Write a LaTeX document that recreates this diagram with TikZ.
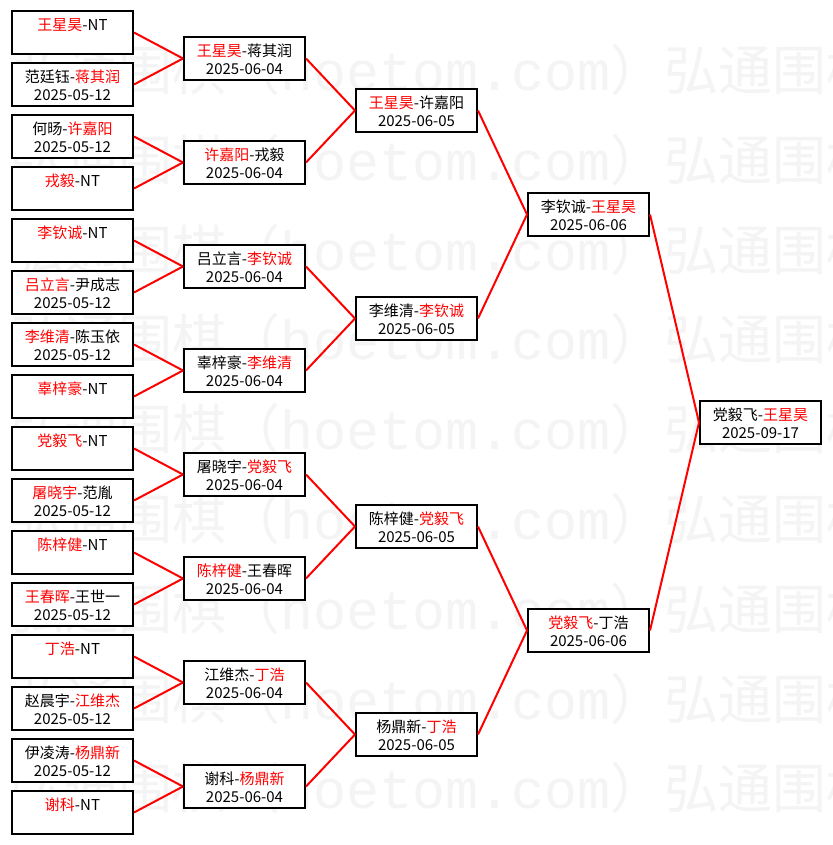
\documentclass[tikz,border=0pt]{standalone}
\usepackage{fontspec}
\setmainfont{Noto Sans CJK SC}
\newfontfamily\wmmono{Liberation Mono}
\usetikzlibrary{calc}
\definecolor{wm}{gray}{0.955}
\newcommand\Rn[1]{\textcolor{red}{#1}}
\tikzset{
  box/.style={draw=black, line width=2pt, fill=white, minimum width=121pt, minimum height=43pt, inner sep=0pt, outer sep=1pt},
  txt/.style={anchor=base, inner sep=0pt, font=\fontsize{15pt}{18pt}\selectfont},
  link/.style={draw=red, line width=2pt},
  wmtext/.style={anchor=base west, inner sep=0pt, text=wm, font=\fontsize{54pt}{60pt}\selectfont}
}
% box with two lines
\newcommand\bk[5]{%
  \node[box] (#1) at (#2,#3) {};
  \node[txt] (#1t) at ($(#1.north)+(0,20.7)$) {#4};
  \node[txt] (#1d) at ($(#1.north)+(0,38.7)$) {#5};}
% box with one line
\newcommand\bkn[4]{%
  \node[box] (#1) at (#2,#3) {};
  \node[txt] (#1t) at ($(#1.north)+(0,20.7)$) {#4};}
\newcommand\wmstr{弘通围棋（{\wmmono\fontsize{55pt}{60pt}\selectfont hoetom.com}）}
\begin{document}
\begin{tikzpicture}[x=1pt,y=-1pt]
\useasboundingbox (0,0) rectangle (832,845);
\fill[white] (0,0) rectangle (832,845);
% watermark
\begin{scope}
\clip (0,0) rectangle (832,845);
\foreach \r in {0,...,8}{
  \foreach \c [count=\n] in {-644,10,664}{
    \node[wmtext] (w\r-\n) at (\c,{90.5+89.8*\r}) {\wmstr};
  }
}
\end{scope}
% column 1
\bkn{a1}{72.5}{32.5}{\Rn{王星昊}-NT}
\bk{a2}{72.5}{84.5}{范廷钰-\Rn{蒋其润}}{2025-05-12}
\bk{a3}{72.5}{136.5}{何旸-\Rn{许嘉阳}}{2025-05-12}
\bkn{a4}{72.5}{188.5}{\Rn{戎毅}-NT}
\bkn{a5}{72.5}{240.5}{\Rn{李钦诚}-NT}
\bk{a6}{72.5}{292.5}{\Rn{吕立言}-尹成志}{2025-05-12}
\bk{a7}{72.5}{344.5}{\Rn{李维清}-陈玉依}{2025-05-12}
\bkn{a8}{72.5}{396.5}{\Rn{辜梓豪}-NT}
\bkn{a9}{72.5}{448.5}{\Rn{党毅飞}-NT}
\bk{a10}{72.5}{500.5}{\Rn{屠晓宇}-范胤}{2025-05-12}
\bkn{a11}{72.5}{552.5}{\Rn{陈梓健}-NT}
\bk{a12}{72.5}{604.5}{\Rn{王春晖}-王世一}{2025-05-12}
\bkn{a13}{72.5}{656.5}{\Rn{丁浩}-NT}
\bk{a14}{72.5}{708.5}{赵晨宇-\Rn{江维杰}}{2025-05-12}
\bk{a15}{72.5}{760.5}{伊凌涛-\Rn{杨鼎新}}{2025-05-12}
\bkn{a16}{72.5}{812.5}{\Rn{谢科}-NT}
% column 2
\bk{b1}{244.5}{58.5}{\Rn{王星昊}-蒋其润}{2025-06-04}
\bk{b2}{244.5}{162.5}{\Rn{许嘉阳}-戎毅}{2025-06-04}
\bk{b3}{244.5}{266.5}{吕立言-\Rn{李钦诚}}{2025-06-04}
\bk{b4}{244.5}{370.5}{辜梓豪-\Rn{李维清}}{2025-06-04}
\bk{b5}{244.5}{474.5}{屠晓宇-\Rn{党毅飞}}{2025-06-04}
\bk{b6}{244.5}{578.5}{\Rn{陈梓健}-王春晖}{2025-06-04}
\bk{b7}{244.5}{682.5}{江维杰-\Rn{丁浩}}{2025-06-04}
\bk{b8}{244.5}{786.5}{谢科-\Rn{杨鼎新}}{2025-06-04}
% column 3
\bk{c1}{416.5}{110.5}{\Rn{王星昊}-许嘉阳}{2025-06-05}
\bk{c2}{416.5}{318.5}{李维清-\Rn{李钦诚}}{2025-06-05}
\bk{c3}{416.5}{526.5}{陈梓健-\Rn{党毅飞}}{2025-06-05}
\bk{c4}{416.5}{734.5}{杨鼎新-\Rn{丁浩}}{2025-06-05}
% column 4
\bk{d1}{588.5}{214.5}{李钦诚-\Rn{王星昊}}{2025-06-06}
\bk{d2}{588.5}{630.5}{\Rn{党毅飞}-丁浩}{2025-06-06}
% column 5
\bk{e1}{760.5}{422.5}{党毅飞-\Rn{王星昊}}{2025-09-17}
% connectors
\foreach \i in {1,...,8}{
  \pgfmathtruncatemacro\p{2*\i-1}
  \pgfmathtruncatemacro\q{2*\i}
  \draw[link] (a\p.east) -- (b\i.west);
  \draw[link] (a\q.east) -- (b\i.west);
}
\foreach \i in {1,...,4}{
  \pgfmathtruncatemacro\p{2*\i-1}
  \pgfmathtruncatemacro\q{2*\i}
  \draw[link] (b\p.east) -- (c\i.west);
  \draw[link] (b\q.east) -- (c\i.west);
}
\draw[link] (c1.east) -- (d1.west);
\draw[link] (c2.east) -- (d1.west);
\draw[link] (c3.east) -- (d2.west);
\draw[link] (c4.east) -- (d2.west);
\draw[link] (d1.east) -- (e1.west);
\draw[link] (d2.east) -- (e1.west);
\end{tikzpicture}
\end{document}
